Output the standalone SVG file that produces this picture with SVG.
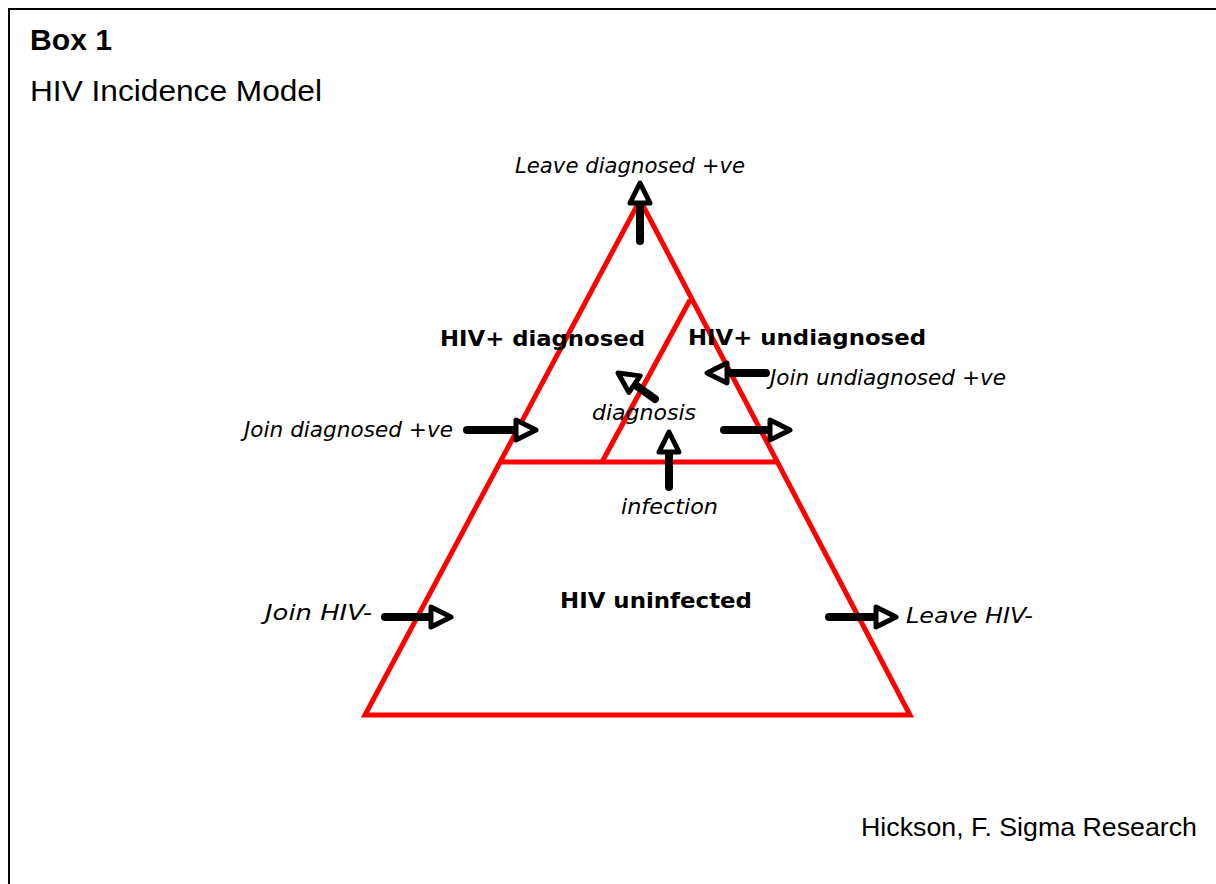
<svg xmlns="http://www.w3.org/2000/svg" width="1216" height="884" viewBox="0 0 1216 884">
<style>
.tri{fill:none;stroke:#ff0000;stroke-width:5;stroke-linejoin:miter}
.shaft{stroke:#000;stroke-width:8;stroke-linecap:round;fill:none}
.head{fill:#fff;stroke:#000;stroke-width:5;stroke-linejoin:round}
.it{font-family:"DejaVu Sans",Verdana,sans-serif;font-style:italic;font-size:21px;fill:#000}
.bd{font-family:"DejaVu Sans",Verdana,sans-serif;font-weight:bold;font-size:21px;fill:#000}
.ar{font-family:"Liberation Sans",Arial,sans-serif;font-size:26px;fill:#000}
.tt{font-family:"Liberation Sans",Arial,sans-serif;font-size:29px;fill:#000}
</style>
<defs>
<path id="ah" d="M0,0 L-20,-10 L-20,10 Z"/>
</defs>
<rect x="0" y="0" width="1216" height="884" fill="#fff"/>
<rect x="9" y="9" width="1220" height="890" fill="none" stroke="#000" stroke-width="2"/>
<g id="title">
<text x="30" y="50" class="tt" font-weight="bold" textLength="82" lengthAdjust="spacingAndGlyphs">Box 1</text>
<text x="30" y="101" class="tt" textLength="292" lengthAdjust="spacingAndGlyphs">HIV Incidence Model</text>
</g>
<g id="triangle">
<path class="tri" d="M640,200 L910,715 L365,715 Z"/>
<line class="tri" x1="500" y1="462" x2="777" y2="462"/>
<line class="tri" x1="602" y1="462" x2="690" y2="300"/>
</g>
<g id="node-diagnosed"><text class="bd" x="440" y="346" textLength="205" lengthAdjust="spacingAndGlyphs">HIV+ diagnosed</text></g>
<g id="node-undiagnosed"><text class="bd" x="688" y="345" textLength="238" lengthAdjust="spacingAndGlyphs">HIV+ undiagnosed</text></g>
<g id="node-uninfected"><text class="bd" x="560" y="608" textLength="192" lengthAdjust="spacingAndGlyphs">HIV uninfected</text></g>
<g id="labels">
<text class="it" x="515" y="173" textLength="230" lengthAdjust="spacingAndGlyphs">Leave diagnosed +ve</text>
<text class="it" x="770" y="385" textLength="236" lengthAdjust="spacingAndGlyphs">Join undiagnosed +ve</text>
<text class="it" x="244" y="437" textLength="209" lengthAdjust="spacingAndGlyphs">Join diagnosed +ve</text>
<text class="it" x="592" y="420" textLength="104" lengthAdjust="spacingAndGlyphs">diagnosis</text>
<text class="it" x="621" y="514" textLength="97" lengthAdjust="spacingAndGlyphs">infection</text>
<text class="it" x="265" y="620" textLength="107" lengthAdjust="spacingAndGlyphs">Join HIV-</text>
<text class="it" x="906" y="623" textLength="127" lengthAdjust="spacingAndGlyphs">Leave HIV-</text>
<text class="ar" x="861" y="836" textLength="336" lengthAdjust="spacingAndGlyphs">Hickson, F. Sigma Research</text>
</g>
<g id="connectors">
<line class="shaft" x1="640" y1="241" x2="640" y2="203"/>
<use href="#ah" class="head" transform="translate(640,183) rotate(-90)"/>
<line class="shaft" x1="467" y1="430" x2="518" y2="430"/>
<use href="#ah" class="head" transform="translate(536,430)"/>
<line class="shaft" x1="724" y1="430" x2="772" y2="430"/>
<use href="#ah" class="head" transform="translate(790,430)"/>
<line class="shaft" x1="766" y1="373" x2="727" y2="373"/>
<use href="#ah" class="head" transform="translate(707,373) rotate(180)"/>
<line class="shaft" x1="655" y1="399" x2="634" y2="384"/>
<use href="#ah" class="head" transform="translate(618,373) rotate(-146)"/>
<line class="shaft" x1="669" y1="487" x2="669" y2="452"/>
<use href="#ah" class="head" transform="translate(669,432) rotate(-90)"/>
<line class="shaft" x1="385" y1="617" x2="433" y2="617"/>
<use href="#ah" class="head" transform="translate(451,617)"/>
<line class="shaft" x1="829" y1="617" x2="878" y2="617"/>
<use href="#ah" class="head" transform="translate(896,617)"/>
</g>
</svg>
